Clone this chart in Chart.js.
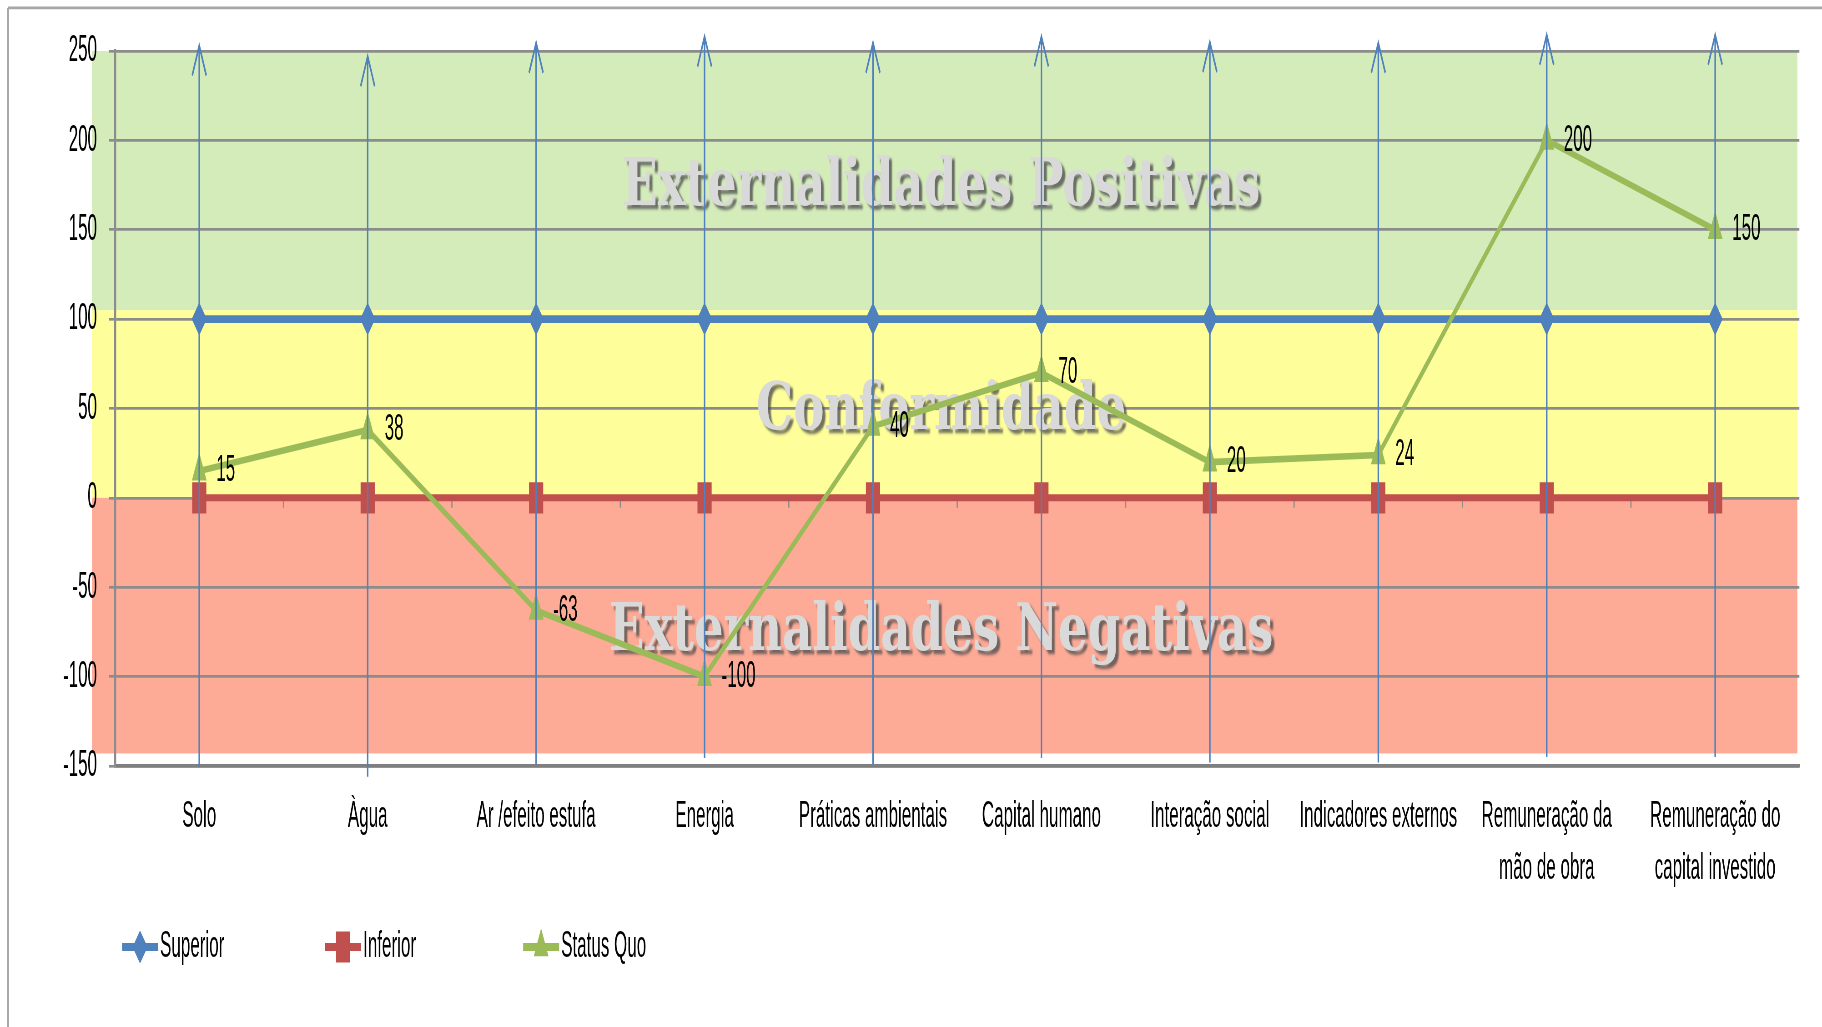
<!DOCTYPE html>
<html>
<head>
<meta charset="utf-8">
<script src="https://cdn.jsdelivr.net/npm/chart.js@4.4.1/dist/chart.umd.min.js"></script>
<style>
  html, body { margin: 0; padding: 0; background: #fff; }
  #wrap { width: 1822px; height: 1027px; overflow: hidden; }
  #chart { display: block; transform-origin: 0 0; }
</style>
</head>
<body>
<div id="wrap"><canvas id="chart" width="1822" height="467"></canvas></div>
<script>
// data
const categories = ['Solo', 'Àgua', 'Ar /efeito estufa', 'Energia', 'Práticas ambientais',
  'Capital humano', 'Interação social', 'Indicadores externos',
  ['Remuneração da', 'mão de obra'], ['Remuneração do', 'capital investido']];
const superior = [100, 100, 100, 100, 100, 100, 100, 100, 100, 100];
const inferior = [0, 0, 0, 0, 0, 0, 0, 0, 0, 0];
const statusQuo = [15, 38, -63, -100, 40, 70, 20, 24, 200, 150];
// vertical arrows (top / bottom value of each one)
const arrowTop = [253, 247, 254.5, 258, 254.5, 258, 255, 254.5, 259, 259];
const arrowBottom = [-150.5, -156, -149, -145.5, -149, -145.5, -148, -148, -145, -145];
const yRange = [-150, 250];
const yStep = 50;
const zoneNames = ['Externalidades Positivas', 'Conformidade', 'Externalidades Negativas'];
const zoneLimits = [250, 105, 0, -143];

// the original picture is an Excel chart stretched vertically
const STRETCH = 1027 / 467;
const canvas = document.getElementById('chart');
canvas.style.transform = 'scaleY(' + STRETCH + ')';

const zoneColors = ['#d4ebba', '#fefe9a', '#fdaa96'];
const gridColor = '#8c8c8c';

Chart.defaults.font.family = '"Liberation Sans", Arial, sans-serif';
Chart.defaults.font.size = 17;
Chart.defaults.color = '#000';

const backdrop = {
  id: 'backdrop',
  beforeDraw(chart) {
    const ctx = chart.ctx;
    const area = chart.chartArea;
    const y = chart.scales.y;
    ctx.save();
    ctx.fillStyle = '#fff';
    ctx.fillRect(0, 0, chart.width, chart.height);
    // frame
    ctx.strokeStyle = '#a6a6a6';
    ctx.lineWidth = 1.3;
    ctx.beginPath();
    ctx.moveTo(8, 3.6);
    ctx.lineTo(chart.width, 3.6);
    ctx.stroke();
    ctx.lineWidth = 2;
    ctx.beginPath();
    ctx.moveTo(8, 3.6);
    ctx.lineTo(8, chart.height);
    ctx.stroke();
    // zones
    for (let i = 0; i < zoneColors.length; i++) {
      const y1 = y.getPixelForValue(zoneLimits[i]);
      const y2 = y.getPixelForValue(zoneLimits[i + 1]);
      ctx.fillStyle = zoneColors[i];
      ctx.fillRect(area.left - 23, y1, area.right - 2 - (area.left - 23), y2 - y1);
    }
    ctx.restore();
  },
  beforeDatasetsDraw(chart) {
    const ctx = chart.ctx;
    const area = chart.chartArea;
    const y = chart.scales.y;
    ctx.save();
    // small ticks of the category axis on the zero line
    const y0 = y.getPixelForValue(0);
    const w = (area.right - area.left) / categories.length;
    ctx.strokeStyle = gridColor;
    ctx.lineWidth = 1.2;
    for (let i = 1; i < categories.length; i++) {
      ctx.beginPath();
      ctx.moveTo(area.left + i * w, y0);
      ctx.lineTo(area.left + i * w, y0 + 4.5);
      ctx.stroke();
    }
    // zone names
    ctx.font = 'bold 30px "DejaVu Serif", serif';
    ctx.textAlign = 'center';
    ctx.textBaseline = 'middle';
    const k = 638 / ctx.measureText(zoneNames[0]).width;
    const cx = (area.left + area.right) / 2 - 16;
    const dpr = chart.currentDevicePixelRatio;
    zoneNames.forEach((name, i) => {
      const cy = y.getPixelForValue((zoneLimits[i] + zoneLimits[i + 1]) / 2) + 3.5;
      ctx.save();
      ctx.translate(cx, cy);
      ctx.scale(k, 1);
      ctx.shadowColor = 'rgba(80,80,80,0.8)';
      ctx.shadowBlur = 3;
      ctx.shadowOffsetX = 3 * dpr;
      ctx.shadowOffsetY = 4;
      ctx.fillStyle = '#d9d9d9';
      ctx.fillText(name, 0, 0);
      ctx.restore();
    });
    ctx.restore();
  },
  afterDatasetsDraw(chart) {
    const ctx = chart.ctx;
    const x = chart.scales.x;
    const y = chart.scales.y;
    ctx.save();
    // arrows
    ctx.strokeStyle = '#4f81bd';
    ctx.lineWidth = 1.5;
    categories.forEach((c, i) => {
      const px = x.getPixelForValue(i);
      const top = y.getPixelForValue(arrowTop[i]);
      const bottom = y.getPixelForValue(arrowBottom[i]);
      ctx.beginPath();
      ctx.moveTo(px, bottom);
      ctx.lineTo(px, top);
      ctx.moveTo(px - 7, top + 13.6);
      ctx.lineTo(px, top);
      ctx.lineTo(px + 7, top + 13.6);
      ctx.stroke();
    });
    // value labels of Status Quo
    const meta = chart.getDatasetMeta(2);
    ctx.fillStyle = '#000';
    ctx.font = '17px "Liberation Sans", Arial, sans-serif';
    ctx.textAlign = 'left';
    ctx.textBaseline = 'middle';
    meta.data.forEach((pt, i) => {
      ctx.fillText(String(statusQuo[i]), pt.x + 17, pt.y);
    });
    ctx.restore();
  },
  afterDraw(chart) {
    // legend: line with marker, then name
    const ctx = chart.ctx;
    const starts = [122, 325, 523];
    const ly = 430.6;
    ctx.save();
    ctx.font = '17px "Liberation Sans", Arial, sans-serif';
    ctx.textAlign = 'left';
    ctx.textBaseline = 'middle';
    chart.data.datasets.forEach((ds, i) => {
      const x0 = starts[i];
      ctx.strokeStyle = ds.borderColor;
      ctx.fillStyle = ds.borderColor;
      ctx.lineWidth = 3.6;
      ctx.beginPath();
      ctx.moveTo(x0, ly);
      ctx.lineTo(x0 + 36, ly);
      ctx.stroke();
      ctx.lineWidth = 1;
      Chart.helpers.drawPoint(ctx, {
        pointStyle: ds.pointStyle, radius: ds.pointRadius, rotation: 0, borderWidth: 1
      }, x0 + 18, ly);
      ctx.fillStyle = '#000';
      ctx.fillText(ds.label, x0 + 38, ly);
    });
    ctx.restore();
  }
};

new Chart(canvas, {
  type: 'line',
  data: {
    labels: categories,
    datasets: [
      {
        label: 'Superior',
        data: superior,
        borderColor: '#4f81bd',
        backgroundColor: '#4f81bd',
        borderWidth: 3.5,
        pointStyle: 'rectRot',
        pointRadius: 6.8,
        pointBorderWidth: 1,
        order: 3
      },
      {
        label: 'Inferior',
        data: inferior,
        borderColor: '#c0504d',
        backgroundColor: '#c0504d',
        borderWidth: 3.2,
        pointStyle: 'rect',
        pointRadius: 9.3,
        pointBorderWidth: 1,
        order: 2
      },
      {
        label: 'Status Quo',
        data: statusQuo,
        borderColor: '#9bbb59',
        backgroundColor: '#9bbb59',
        borderWidth: 3,
        pointStyle: 'triangle',
        pointRadius: 7.5,
        pointBorderWidth: 1,
        order: 1
      }
    ]
  },
  options: {
    responsive: false,
    animation: false,
    devicePixelRatio: STRETCH,
    layout: { padding: { top: 23.19, right: 23, bottom: 0, left: 0 } },
    plugins: {
      legend: { display: false },
      tooltip: { enabled: false }
    },
    scales: {
      x: {
        type: 'category',
        offset: true,
        grid: { display: false, drawTicks: false },
        border: { display: true, color: '#7f7f7f', width: 1.6 },
        ticks: {
          autoSkip: false,
          maxRotation: 0,
          padding: 11.4,
          font: { size: 17, lineHeight: 1.39 },
          color: '#000'
        },
        afterFit(scale) { scale.height = 467 - 348.3; }
      },
      y: {
        min: yRange[0],
        max: yRange[1],
        grid: { color: gridColor, lineWidth: 1.2, tickLength: 6, drawTicks: true },
        border: { display: true, color: gridColor, width: 2 },
        ticks: { stepSize: yStep, padding: 12, font: { size: 17 }, color: '#000' },
        afterFit(scale) { scale.width = 115; }
      }
    }
  },
  plugins: [backdrop]
});
</script>
</body>
</html>
